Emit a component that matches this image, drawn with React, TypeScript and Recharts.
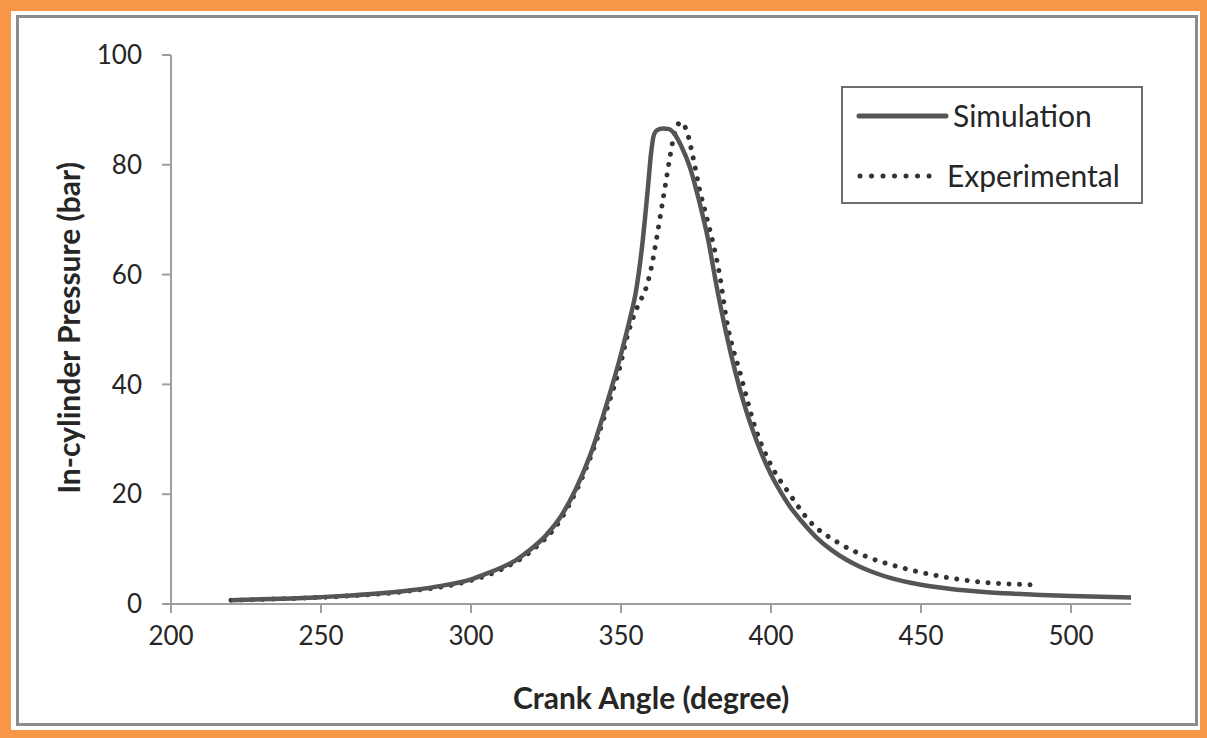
import { LineChart, Line, XAxis, YAxis, Legend } from "recharts";

// crank angle (degree) / in-cylinder pressure (bar)
const simAngle = [
  220, 230, 240, 250, 260, 270, 280, 290, 300, 305, 310, 315, 320, 325, 330, 335, 340, 345, 350,
  353, 355, 357, 359, 360, 361, 362, 364, 366, 368, 370, 373, 376, 379, 382, 385, 388, 391, 394,
  397, 400, 403, 406, 410, 415, 420, 425, 430, 435, 440, 450, 460, 470, 480, 490, 500, 510, 520,
];
const simPressure = [
  0.7, 0.85, 1.0, 1.25, 1.55, 1.95, 2.5, 3.3, 4.5, 5.5, 6.6, 8.0, 10.0, 12.5, 16.0, 21.0, 27.5,
  36.0, 45.5, 52, 57, 65, 76, 82, 85.5, 86.3, 86.6, 86.5, 85.5, 83.5, 79.5, 73.5, 66.5, 57.5, 49.5,
  42.5, 36.5, 31.5, 27.2, 23.6, 20.6, 18.0, 15.2, 12.2, 9.9, 8.1, 6.7, 5.6, 4.7, 3.5, 2.75, 2.25,
  1.9, 1.65, 1.45, 1.3, 1.2,
];

const expAngle = [
  220, 240, 260, 280, 300, 310, 320, 330, 340, 345, 350, 352, 356, 358, 360, 362, 363.5, 365,
  366.5, 368, 370, 372, 374, 376, 379, 381, 383, 385, 390, 395, 400, 406, 413, 422, 432, 443, 454,
  470, 488,
];
const expPressure = [
  0.7, 1.0, 1.5, 2.4, 4.3, 6.3, 9.6, 15.5, 27, 35, 44, 48.6, 54.8, 57, 61, 67, 72, 77, 82, 86, 87.8,
  86, 81.4, 76, 69.5, 65, 59.6, 52.3, 41.5, 31.7, 25.3, 20.2, 15, 11.3, 8.6, 6.7, 5.3, 4, 3.5,
];

const xTicks = [200, 250, 300, 350, 400, 450, 500];
const yTicks = [0, 20, 40, 60, 80, 100];

const simData = simAngle.map((a, i) => ({ angle: a, pressure: simPressure[i] }));
const expData = expAngle.map((a, i) => ({ angle: a, pressure: expPressure[i] }));

const FONT = "Lato, 'Open Sans', sans-serif";
const INK = "#262626";

function LegendBox() {
  return (
    <div
      style={{
        width: 302,
        height: 118,
        boxSizing: "border-box",
        border: "2px solid #6e6e6e",
        background: "#fff",
        position: "relative",
        fontFamily: FONT,
        color: INK,
        fontSize: 30,
      }}
    >
      <svg width={110} height={118} style={{ position: "absolute", left: 0, top: 0 }}>
        <line x1={16} x2={103} y1={28} y2={28} stroke="#555" strokeWidth={5} strokeLinecap="round" />
        <line
          x1={17}
          x2={97}
          y1={88}
          y2={88}
          stroke="#333"
          strokeWidth={5}
          strokeLinecap="round"
          strokeDasharray="0.01 11.5"
        />
      </svg>
      <div style={{ position: "absolute", left: 110, top: 9, lineHeight: "36px" }}>Simulation</div>
      <div style={{ position: "absolute", left: 104, top: 69, lineHeight: "36px" }}>Experimental</div>
    </div>
  );
}

export default function App() {
  return (
    <div
      style={{
        position: "absolute",
        left: 0,
        top: 0,
        width: 1207,
        height: 738,
        background: "#F79646",
        fontFamily: FONT,
      }}
    >
      <div style={{ position: "absolute", left: 11, top: 11, width: 1189, height: 719, background: "#fff" }} />
      <div
        style={{
          position: "absolute",
          left: 16,
          top: 15,
          width: 1182,
          height: 711,
          boxSizing: "border-box",
          border: "3px solid #8c8c8c",
        }}
      />
      <div style={{ position: "absolute", left: 0, top: 0 }}>
        <LineChart
          width={1207}
          height={738}
          margin={{ top: 55, right: 76, left: 0, bottom: 74 }}
          style={{ fontFamily: FONT }}
        >
          <XAxis
            type="number"
            dataKey="angle"
            domain={[200, 520]}
            ticks={xTicks}
            height={60}
            allowDataOverflow
            stroke="#9e9e9e"
            strokeWidth={2}
            tickSize={9}
            tickMargin={14}
            tick={{ fontSize: 26, fill: INK, fontFamily: FONT }}
          />
          <YAxis
            type="number"
            dataKey="pressure"
            domain={[0, 100]}
            ticks={yTicks}
            width={171}
            stroke="#9e9e9e"
            strokeWidth={2}
            tickSize={9}
            tickMargin={20}
            tick={{ fontSize: 26, fill: INK, fontFamily: FONT }}
          />
          <Legend
            layout="horizontal"
            verticalAlign="middle"
            align="center"
            wrapperStyle={{ left: 841, top: 86, width: 302, height: 118 }}
            content={() => <LegendBox />}
          />
          <Line
            data={expData}
            dataKey="pressure"
            name="Experimental"
            type="monotone"
            stroke="#333"
            strokeWidth={5}
            strokeLinecap="round"
            strokeDasharray="0.01 10.5"
            dot={false}
            activeDot={false}
            isAnimationActive={false}
          />
          <Line
            data={simData}
            dataKey="pressure"
            name="Simulation"
            type="monotone"
            stroke="#555"
            strokeWidth={4.5}
            dot={false}
            activeDot={false}
            isAnimationActive={false}
          />
        </LineChart>
      </div>
      <div
        style={{
          position: "absolute",
          left: 651,
          top: 697,
          transform: "translate(-50%, -50%)",
          whiteSpace: "nowrap",
          fontWeight: 700,
          fontSize: 30,
          color: INK,
        }}
      >
        Crank Angle (degree)
      </div>
      <div
        style={{
          position: "absolute",
          left: 68,
          top: 328,
          transform: "translate(-50%, -50%) rotate(-90deg)",
          whiteSpace: "nowrap",
          fontWeight: 700,
          fontSize: 30,
          color: INK,
        }}
      >
        In-cylinder Pressure (bar)
      </div>
    </div>
  );
}
